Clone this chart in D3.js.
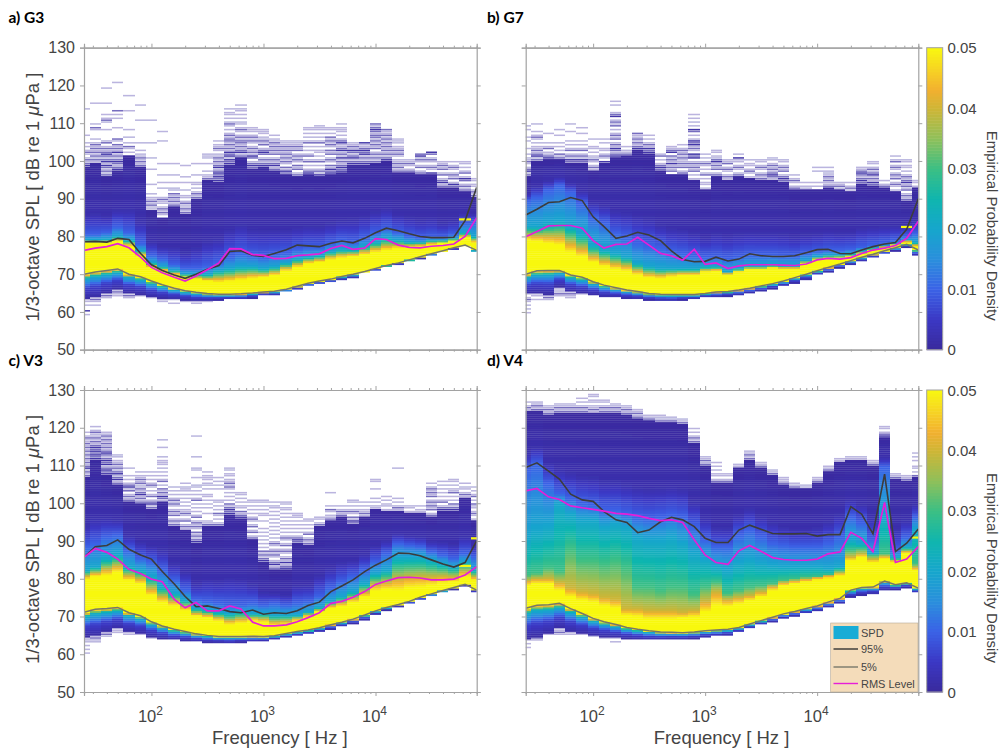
<!DOCTYPE html>
<html>
<head>
<meta charset="utf-8">
<script src="https://cdn.jsdelivr.net/npm/d3@7"></script>
<style>
  html, body { margin: 0; background: #fff; }
  text { font-family: "Liberation Sans", Arial, sans-serif; fill: #444; }
  .title { font-family: Lato, sans-serif; font-weight: 700; font-size: 15.5px; fill: #000; }
</style>
</head>
<body>
<div class="main"></div>
<script>
const width = 1004;
const height = 749;

// one third octave centre frequencies
const bands = [25,31.5,40,50,63,80,100,125,160,200,250,315,400,500,630,800,1000,1250,1600,2000,2500,3150,4000,5000,6300,8000,10000,12500,16000,20000,25000,31500,40000,50000,63000,80000];
const yTicks = [50,60,70,80,90,100,110,120,130];
const xMajor = [100,1000,10000];
const xMinor = [30,40,50,60,70,80,90,200,300,400,500,600,700,800,900,2000,3000,4000,5000,6000,7000,8000,9000,20000,30000,40000,50000,60000,70000];
const cbTicks = [0,0.01,0.02,0.03,0.04,0.05];

// colour ramp
const rampStops = [0,0.005,0.01,0.015,0.02,0.025,0.03,0.035,0.04,0.043,0.046,0.05];
const rampColors = ['#3a2a9c','#3b38c4','#3b62e6','#2a8fdc','#16a6cc','#10b6ae','#3cbf84','#90c05a','#cfb535','#f2b030','#f6cf25','#f8f810'];

// G3
const g3P95 = [78.6,78.7,78.5,79.5,79.2,75.5,72.5,71,69.8,68.9,70,71.3,72.3,76,76.2,75,74.7,75.5,76.5,77.7,77.5,77.3,78.2,78.8,78.3,79.5,81,82.2,81.5,80.7,80,79.7,79.7,79.8,84.2,93];
const g3Rms = [76.3,76.9,77.3,78.1,77,74.5,71.8,70.4,69.2,68.2,69.5,71.2,73,76.8,76.7,75.2,75,74.1,74.2,74.9,75.1,75.4,76.8,77.6,76.6,76.9,79.4,79.2,77.7,77.1,77,77.4,77.6,78,80,85];
const g3P5 = [70,70.6,71,71.4,70,69.3,68.2,67.2,66.3,65.6,65.2,64.9,64.7,64.7,64.8,65,65.3,65.5,66,66.8,67.6,68.2,68.7,69.4,70,70.7,71.5,72.3,73,73.8,74.6,75.4,76.2,77,77.7,76.3];
const g3Floor = [63.5,64,65,66,65,64.7,64,63.7,63.5,63.2,63,63,63.2,63.3,63.3,63.7,64.3,64.5,65.3,66,66.8,67.3,67.8,68.5,69,70.3,71,71.9,72.6,73.4,74.2,75,75.8,76.6,77.3,76];
const g3Yellow = [78.3,78.3,78.3,78.8,77.5,75,72,71,70,69.3,68.8,68.3,68,68.2,68.6,69,69.3,69.8,71,72,73,73.3,74,74.5,74.8,75.3,76,76.5,77,77.3,77.5,78,78.3,78.8,79.8,78.5];
const g3Teal = [79.2,79.2,79.3,80,79,76.3,73,72,71,70,70,70,71,71.5,72,72,71.5,72,73,74,74.5,75,76,76.5,76.5,77.5,78.5,79.5,79,78.5,78.5,79,79,79.5,81,80];
const g3Blue = [80.5,80.5,81,82.5,81,78,75,74,72.5,71.5,71.5,72,73,74.5,75.5,75,74.5,75,75.5,76.5,77,77,78,78.8,78.3,79.5,81,82,81,80,79.5,79.8,79.8,80.5,83.5,84];
const g3Ceil = [98.5,99.3,96,97.6,101.3,98.5,87,85,88,86,90,95,94.5,99,101,98,98.5,97.6,96.7,96,96.3,96,96.3,97.2,99,99,99.3,100,97,97,96.3,96.7,93,93,92,90.5];
// stripes above the solid part: one char per 0.5 dB, going up. # dark, + mid, - pale, . empty
const g3Above = [
  '#+-+-.-+-.-.-...-.............-','-+-+-+-+-+-.-....-+.-..........-','+-+-+#-#+-+#+-+-.+-.....-...-+-.-.....-.......-','#+-+#+-+-#-+-+.-+.....-....-.-.+..............-',
  '.-.-+.-..-...-.........-.......-','+-+-+--.-...-...........-.......-','--+-+--.-....-.......-.....-.......-...........-.','.-+-+-.--+-....-..-...-.....-...........-....-',
  '+-+-+-+.--..-...-.....-.','+-+--+-.--..-...-..-.....-','+-+-.-.--...-.....-.','+--.-...-..---..',
  '#+#+#+-#+-+-+--.-+--.-','#+#-#+#-+-+-++-+-.-.-+-.-.--.-','+-#+-+-++-+-.-+-.--.-.-.--.-','+#+-.+#-+-+-.-+-+-.---',
  '#+-+-.+#+-.+-+--.---','+-#+-+-.+-+-+-+--.-','+#-+.-+-+-+-+-+---','+-.+-+.-+-+-.+-+---',
  '#+-.-.+-.+-.-.-.+-.-.-.--','#-+-.-.+-.-.--.-.+-.-.-.---','#+#-+.-+-.+-+.-+-+-+.-.--','#+#+-+-#-+-#+--#+-.-.---.-',
  '#+-#+-+#-+--','#+-+-#+#+--#','+-+-+-.+-+-+-++-+#+-+','#+-+-+-+-+-+-+--+',
  '+-+-+--.-+-+--.---','+-.-+--','+-.+-.-+-#+','#.-+-.-+-.+#',
  '+-#+-.+-.+-+--.','+#-.+-+-.-+-.-','+-+-.+#-.+-.-.--','+-+-.--.--'
];
const g3Under = ['--.-..#.-...','-+-.-','-+-','-+--','-+-','-','-','--','-.-','-','--','-'];
const g3Blips = [[34,84.3]];

// G7
const g7P95 = [85.7,87.2,89,89.2,90.3,89.5,85.2,82.6,79.5,80.1,81.1,80.4,78.9,76.2,73.9,73.3,73.4,74.5,73.5,74,75.4,74.9,74.7,74.7,74.9,75.7,76.5,76.6,75.5,75.4,76.4,77.3,78,78.4,81.9,90];
const g7Rms = [79.9,81.3,82.8,82.9,82.9,82.2,78.9,76.9,77.9,78,79.8,77.7,75.5,74.9,73.7,76.6,72.6,73,71.5,72.2,72.5,72.5,72.5,72.4,72.3,72.7,73.8,74.2,74,74.4,75.5,76.4,76.9,77.6,79.5,84];
const g7P5 = [70,70.9,71,71,69.8,69.2,68,67.1,66.4,65.8,65.4,64.9,64.7,64.6,64.6,64.6,64.9,65.3,65.4,65.8,66.3,66.9,67.5,68.2,69.1,70,70.9,71.8,72.7,73.6,74.5,75.3,76.2,77,77.9,76.4];
const g7Floor = [64.9,64.9,64.7,66.7,65.4,64.9,64.5,64,63.9,63.6,63.4,63.2,62.9,62.9,63.2,63.4,63.9,64,64.2,64.5,65.1,65.6,66.2,66.9,67.7,68.6,69.8,70.6,71.7,72.6,73.5,74.4,75.3,76.2,77.2,75];
const g7Yellow = [79.2,78.9,78.3,77.9,76,74.8,73.3,72.2,71.5,71,70,69.2,69,69.5,69.8,69.8,70.7,71,70,70.7,71.3,71.3,71.7,71.5,71.5,72.9,73.8,74.2,74.4,74.7,75.3,76.4,77.1,77.7,78.6,77.5];
const g7Teal = [82.6,82.6,83.5,84,82.6,80.8,77.7,76.4,75.5,74.6,72.9,72,71.5,71.5,71.5,71.5,72,72,70.7,71.5,72.2,72.2,72.5,72.3,72.3,73.6,74.7,75,75,75.4,76.3,76.9,77.5,78.2,79.1,78.4];
const g7Blue = [89.6,90.5,92.3,93.6,91.8,88.8,85.2,83.5,80.8,79.9,78.2,77.5,77,76,75.5,75,74.5,74.5,74,74.5,75,75,75,74.8,74.8,75.5,76,76.3,76.3,76.6,77.1,77.7,78.2,78.9,80,80.8];
const g7Ceil = [95.8,99.8,100.4,100.7,99.4,99.4,97.6,99.4,101,101.6,102.9,102,97.6,96.7,96.7,95,92.3,95.8,95,95.8,95.4,95,95,94.5,92.3,92.3,92.3,93.2,92.3,91.9,94,93.6,93.2,91.9,89.6,93];
const g7Above = [
  '+-#+-.-+--.-..-...-.-...-.-','+-#+-+--.-.-+-.-...-','#+--.+-.-....-','+-+.-.-.-...-..-',
  '+#-+-.+-.-.-....-...-.','+#-+-.+-.-.-...-..-','-+-.-+--.-.--...-.','#.-+-.--..-.-.',
  '#+-+#-+-.+-+-.-.+-+-.#+-...-.-','+--.-','#+-+-+--+','#+#-+-.-.-',
  '+#+-.-.+-','.+-+-#-+-+.#+--','+-.+-+--+-+-+-.-','-.-.+-+-+-.#+#.-+-#+#-.-.+#.-.-.-.-',
  '-.--.-.+-.-.-+-.-.-','+-.+-+-#+--.--','-+-.-+-.+--.','+-.-+-.--#.-.',
  '-.-+-.--.-','+-+-.-+-.--.','-+#+-+-+-.--','+#+-.+-+-.--',
  '+-.-+-.-','--.-','.-.-.....-.-','+--+-+---.-.',
  '-+--.','-+-.-','+#+-+#+--','+#-+-#+-+-.--',
  '+-.-','-.-+-.+-+-.-+-.+-.-','+-+-.+-+-#+-+-.-.--.--','-.--'
];
const g7Under = ['-.-+-.-.-.-.','--.-','-+-','---+-','-+--','-'];
const g7Blips = [[34,82.3]];

// V3
const v3P95 = [85.7,88.5,88.8,90.3,87.8,86.3,85.2,81.9,78.6,75.3,72.6,72.8,72.1,71.3,71,71.7,70.6,71,70.8,71.5,72.9,73.8,76.6,78.1,79.7,81.9,83.6,85,86.8,86.7,86.1,85,83.9,83.1,84.3,90.1];
const v3Rms = [85.7,88,87,85.2,82.5,81.4,79.9,79.2,74.5,72.3,73.7,71.5,71.5,72.8,72,68.5,67.5,67.5,67.8,68.6,69.7,71,73.5,74,75.1,76.6,78.5,79.4,80.3,80.4,80.2,79.7,79.7,79.9,81,83.2];
const v3P5 = [71.1,71.9,72.1,72.4,71,70.2,68.6,67.5,66.6,66,65.4,65,64.7,64.7,64.7,64.8,64.7,64.9,65.5,66,66.4,67,67.8,68.5,69.3,70.4,71.5,72.4,73.2,74,75.1,76,76.9,77.7,78.5,77];
const v3Floor = [64.7,65,66,66.9,66,65.5,64.7,64.2,63.8,63.6,63.3,63.2,63.1,62.9,63.2,63.3,63.5,64,64.5,64.8,65.3,66,66.6,67.3,68.2,69.1,70.6,71.7,72.6,73.5,74.4,75.3,76.3,77.2,78.1,76.6];
const v3Yellow = [80,80.7,81,81.9,79.7,78.8,75.7,73.9,73,71.7,70.2,69.8,69,68,68.4,69,68.6,67.7,68,69,70,71.3,72.4,72.8,73.9,75.3,77,77.3,77,77.7,77.9,78.3,79,79.2,80.6,79.7];
const v3Teal = [82.3,83.2,85.4,86.3,83.2,82.3,80.6,77.9,76.1,74.4,72.2,71.7,71.1,70.8,71.3,70.8,70.8,70.4,70.4,70.4,71.3,72.4,73.9,75.3,76.6,78.8,81.4,82.3,85.8,85.8,85.8,85,84.1,83.2,84.5,82.3];
const v3Blue = [88.5,89.4,91.1,91.6,87.6,85.4,84.5,82.3,79.7,77,74.4,73.9,73.5,73,73,73.5,73,73.5,73,73.5,73.9,75.3,77.5,79.2,80.6,82.3,84.5,86.7,89.4,88.9,88.5,87.2,86.3,85.4,86.7,85.8];
const v3Ceil = [107,111.5,107.5,104.8,100.4,100,98.7,100.4,94.2,92.9,89.4,93.8,93.8,96.9,96,90.3,84.5,82.3,82.3,89.4,88.9,94.2,95.6,96.4,94.7,96.4,98.7,98.2,97.8,97.3,97.3,96.4,98,98.2,101.6,95.6];
const v3Above = [
  '+-+-#+-+-+-+-+-+-+--+-.-','#+#+#+#+-+-+--+-.-.','#+#+-#+#+-+#+-+-+-+-+--','+-#+-#+-+-+--.--',
  '+-+-.+-#+-.-.-...-','+-+-#+-+--+-+--.-','+-#+-.+-.-.-+-.-.-.-','-+#-+-+.-.+-.-.-.-.---.-....-...-',
  '+-+-.+-+-.-+-+-.-.-.-.','-+-.+-.-+--.-.-.-.-.---.-','#+-+-+.-+-+-.+-.-.-.-.+-.-.-.--...-...--.....-..........-','+--...-..-.-.-.--..-.--.---.-',
  '+-.-.-+.-.-.--.....-.-.-.-...','#+#+-+.-.-.-.-+-+--.--.--','#+-+.--.-.-.--','+-.+-.+-.-+-.-.-.-.--.',
  '#+-+-+.-.-.-.-.-.-...-..--.-.-.--.','+-#+-.-+-+-.-+-.-.-.-.-.-.-.-.-.--.-','#+-#-+-.-+-.+-.-+-.-.-.-.-.-.-.--.--','+#+-.-.-.-.-.---',
  '+-+-.+-.-.-.--','+-.--.','+--.-+.-......-','+-+-.-',
  '+#-+.-+-.-.--','-+--.-.-.','--.-.-....-...--','-.--.-.-',
  '-+-.-.-...............-','-.--.','--.-.','+-.+-+-+-.+-+-+-.-',
  '#+-.+-.-.-.-.-.-','#+-+.-.-.+--.-.--','-+-.--.-','-.-+-.--+.-.+-.-.-'
];
const v3Under = ['---.-.-.-','-+--.','-+-','---','--','-','-'];
const v3Blips = [[34,83.2],[35,90.5]];

// V4
const v4P95 = [109.5,110.7,108.5,106.4,102.4,100.9,100.5,97.8,95.6,94.9,92.2,92.9,95.1,96.3,95.6,93.8,90.7,89.6,89.6,92.9,94.2,93.1,92,91.9,91.9,92,91.3,91.7,91.7,99.1,97.1,91.9,107.7,87.2,89.4,93.2];
const v4Rms = [103.3,103.9,101.7,101,99.3,98.8,98.4,97.9,97.3,97.1,96.7,96,95.4,95.6,94.9,90.3,86.3,84.3,83.8,87.4,88.8,87.3,85.6,85.1,84.9,84.9,85.2,86.6,87.1,92.3,90.7,87.2,100.2,84.3,85.2,88.5];
const v4P5 = [72.2,73,73.1,73.5,72.1,70.8,69.5,68.6,67.9,67.1,66.6,66.2,65.9,65.8,65.7,65.9,66.2,66.4,66.6,67.1,68,68.9,69.8,70.7,71.3,72.1,72.8,73.8,74.8,77,77.7,77.8,79.4,78.4,78.9,77.5];
const v4Floor = [64.2,64.7,65.5,66.9,66,65.5,64.9,64.7,64.5,64.2,64,63.8,63.8,64,64,64.2,64.5,64.8,65,65.8,66.9,67.8,68.6,69.5,70.1,70.8,71.5,72.4,73.5,75.1,75.7,76,77,77.2,77.7,76.3];
const v4Yellow = [78.3,78.8,78.8,77,75.3,74.4,73.9,73,72.4,70.4,70.1,69.5,69.5,69.5,69.8,70,71.3,73,72.8,73.5,74.4,75.3,77,78.3,78.8,79.2,79.7,80.1,81,85,86,84.5,85.4,84.5,86.9,82.3];
const v4Orange = [79.5,80,80,79,77.5,76.5,76,75,74.5,72,72,71.5,71.5,71.5,71,71.5,74,76.5,74.5,75,75.5,76.5,78,79,79.5,80,80.5,81,81.5,85.8,86.5,85.2,86,85,87.3,83];
const v4Green = [81,81.5,83,82,88,85,85,84,85,83,78,78,77,78,78,76,78,79.2,76.1,77,77.9,78.3,78.8,79.7,80,80.4,80.6,81,82.3,87.6,88,86.3,86.7,85.2,87.8,84];
const v4Teal = [91,93,94,100,97.3,95.6,95.6,93.8,94.7,93.8,91.1,90.3,90.3,91.1,89.4,86.7,85,83.2,82.3,84.1,85,84.1,83.6,83.2,83.2,83.2,83.2,82.7,83.2,90.3,89.4,86.7,96.4,85.8,88.5,93];
const v4Blue = [108.8,110.6,105.3,102.6,101.3,100,99.5,98.2,98.2,97.3,96.4,96,96.4,96.9,96.4,93.8,90.3,88.5,88.5,91.6,92.9,91.1,89.4,88.9,88.5,88.5,88.5,89.4,91.1,96.4,94.7,90.3,109.7,87.6,91,96.4];
const v4Ceil = [124.5,124.5,123.4,124.2,124.2,124.2,124.2,124,123.8,123.4,122.5,122,121.6,121.6,121.1,115.9,110.1,105.7,105.3,109.3,111.5,109.3,107.5,104.8,103.9,103.9,105.3,108.4,111,111.5,111.5,110.1,117.6,106.4,106.2,107.2];
const v4Above = [
  '-+-.-','+-+--','+-+--','+-+--','+-+--.','+-+-.-.-','-+--.--.--','+-+-.--',
  '+-+--','+-+--','+-+--','+--.','+---','+--','+--','+-+-.-.-',
  '+-+--.','+-.--.-.-.-','+-.--','--','+-+--','+--','+--','+---',
  '+--','--','+--','+--','--','--','--','+--',
  '#+-.--','+--','+--','+.-.--..-.-.-'
];
const v4Under = ['-.-.-','+-','-','--+-.','--','-','-','-','-.-'];
const v4Blips = [[35,90.7]];

const legendLabels = ['SPD','95%','5%','RMS Level'];

const ramp = d3.scaleLinear().domain(rampStops).range(rampColors).clamp(true);
const stripeAlpha = {'#': 0.95, '+': 0.7, '-': 0.35};

const plotW = {a: [84, 476.7], b: [525.7, 918.3]};
const plotH = {top: [47.7, 349.7], bottom: [390, 692]};

const svg = d3.select('.main')
  .append('svg')
  .attr('width', width)
  .attr('height', height)
  .attr('viewBox', `0 0 ${width} ${height}`);

const defs = svg.append('defs');
defs.append('filter').attr('id', 'soft')
  .append('feGaussianBlur').attr('stdDeviation', 0.35);

function drawPanel(id, title, xr, yr, s, opts) {
  const x = d3.scaleLog().domain([25, 80000]).range(xr);
  const y = d3.scaleLinear().domain([50, 130]).range([yr[1], yr[0]]);

  defs.append('clipPath').attr('id', 'clip' + id)
    .append('rect')
    .attr('x', xr[0]).attr('y', yr[0])
    .attr('width', xr[1] - xr[0]).attr('height', yr[1] - yr[0]);

  // column edges sit halfway between the nominal band centres
  const edge = i => {
    if (i <= 0) return Math.floor(xr[0]);
    if (i >= bands.length) return Math.ceil(xr[1]);
    return Math.round(x(Math.sqrt(bands[i - 1] * bands[i])));
  };

  // build the cells, 0.5 dB tall, one column per band
  const cells = [];
  const stripes = [];
  bands.forEach((f, i) => {
    const x0 = edge(i);
    const x1 = edge(i + 1);
    const under = s.p5[i] - s.floor[i];
    const levels = [s.floor[i], s.p5[i] - under * 0.55, s.p5[i] - under * 0.15, s.p5[i], s.yellow[i]];
    const dens = [0.001, 0.006, 0.022, 0.05, 0.05];
    if (s.orange) {
      levels.push(s.orange[i], s.green[i]);
      dens.push(0.04, 0.03);
    }
    levels.push(s.teal[i], s.blue[i], s.blue[i] + (s.ceil[i] - s.blue[i]) * 0.3, s.ceil[i]);
    dens.push(0.02, 0.01, 0.002, 0.0005);
    const density = d3.scaleLinear().domain(levels).range(dens).clamp(true);
    const lo = Math.round(s.floor[i] * 2) / 2;
    const hi = Math.round(s.ceil[i] * 2) / 2;
    for (let v = lo; v < hi; v += 0.5) {
      cells.push({x0, x1, v, d: density(v + 0.25)});
    }
    for (let k = 0; k < (s.above[i] || '').length; k++) {
      const c = s.above[i][k];
      if (c !== '.') stripes.push({x0, x1, v: hi + k * 0.5, a: stripeAlpha[c]});
    }
    for (let k = 0; k < (s.under[i] || '').length; k++) {
      const c = s.under[i][k];
      if (c !== '.') stripes.push({x0, x1, v: lo - (k + 1) * 0.5, a: stripeAlpha[c]});
    }
  });
  s.blips.forEach(b => {
    cells.push({x0: edge(b[0]), x1: edge(b[0] + 1), v: b[1], d: 0.05});
  });

  const heat = svg.append('g')
    .attr('clip-path', `url(#clip${id})`)
    .append('g')
    .attr('filter', 'url(#soft)');

  heat.append('g').selectAll('rect')
    .data(stripes)
    .enter()
    .append('rect')
    .attr('x', d => d.x0)
    .attr('width', d => d.x1 - d.x0)
    .attr('y', d => y(d.v + 0.5))
    .attr('height', y(0) - y(0.4))
    .attr('fill', ramp(0.001))
    .attr('fill-opacity', d => d.a);

  heat.append('g').selectAll('rect')
    .data(cells)
    .enter()
    .append('rect')
    .attr('x', d => d.x0)
    .attr('width', d => d.x1 - d.x0)
    .attr('y', d => y(d.v + 0.5))
    .attr('height', y(0) - y(0.5) + 0.3)
    .attr('fill', d => ramp(d.d));

  // percentile and rms lines
  const line = d3.line().x((d, i) => x(bands[i])).y(d => y(d));
  const lines = svg.append('g').attr('clip-path', `url(#clip${id})`).attr('fill', 'none');
  lines.append('path').attr('d', line(s.p5)).attr('stroke', '#77776a').attr('stroke-width', 1.5);
  lines.append('path').attr('d', line(s.p95)).attr('stroke', '#3c3c3c').attr('stroke-width', 1.6);
  lines.append('path').attr('d', line(s.rms)).attr('stroke', '#e61ed8').attr('stroke-width', 1.7);

  // axes, all four sides like the matlab box
  const noLabel = () => '';
  const styleAxis = g => {
    g.selectAll('.domain').attr('stroke', '#a2a2a2').attr('stroke-width', 1.2);
    g.selectAll('.tick line').attr('stroke', '#a2a2a2');
  };
  svg.append('g').attr('transform', `translate(${xr[0]},0)`)
    .call(d3.axisLeft(y).tickValues(yTicks).tickSize(4).tickPadding(5).tickFormat(opts.yLabels ? d3.format('d') : noLabel))
    .call(styleAxis)
    .call(g => g.selectAll('text').attr('font-size', 16).attr('fill', '#444').style('font-family', '"Liberation Sans"'));
  svg.append('g').attr('transform', `translate(${xr[1]},0)`)
    .call(d3.axisRight(y).tickValues(yTicks).tickSize(4).tickFormat(noLabel))
    .call(styleAxis);
  [[yr[0], d3.axisTop], [yr[1], d3.axisBottom]].forEach(([py, axis]) => {
    svg.append('g').attr('transform', `translate(0,${py})`)
      .call(axis(x).tickValues(xMinor).tickSize(2).tickFormat(noLabel))
      .call(styleAxis);
    svg.append('g').attr('transform', `translate(0,${py})`)
      .call(axis(x).tickValues(xMajor).tickSize(4).tickFormat(noLabel))
      .call(styleAxis);
  });

  if (opts.xLabels) {
    const tl = svg.append('g').selectAll('text')
      .data(xMajor)
      .enter()
      .append('text')
      .attr('x', d => x(d) - 1)
      .attr('y', yr[1] + 29.5)
      .attr('text-anchor', 'middle')
      .attr('font-size', 16.5)
      .text('10');
    tl.append('tspan')
      .attr('dy', -7)
      .attr('font-size', 12)
      .text(d => Math.round(Math.log10(d)));
    svg.append('text')
      .attr('x', (xr[0] + xr[1]) / 2 - 0.5)
      .attr('y', yr[1] + 52)
      .attr('text-anchor', 'middle')
      .attr('font-size', 18.5)
      .text('Frequency [ Hz ]');
  }
  if (opts.yLabels) {
    const yl = svg.append('text')
      .attr('transform', `translate(39,${(yr[0] + yr[1]) / 2 - 1.5}) rotate(-90)`)
      .attr('text-anchor', 'middle')
      .attr('font-size', 18.5)
      .text('1/3-octave SPL [ dB re 1 ');
    yl.append('tspan').attr('font-style', 'italic').text('\u03BC');
    yl.append('tspan').text('Pa ]');
  }
  svg.append('text')
    .attr('class', 'title')
    .attr('x', xr[0] === 84 ? 8.5 : 487)
    .attr('y', yr[0] - 24.5)
    .text(title);
}

function drawColorbar(id, yr) {
  const cx = 926.7;
  const cw = 16;
  const c = d3.scaleLinear().domain([0, 0.05]).range([yr[1], yr[0]]);
  svg.append('g').selectAll('rect')
    .data(d3.range(0, 0.05, 0.0005))
    .enter()
    .append('rect')
    .attr('x', cx)
    .attr('width', cw)
    .attr('y', d => c(d + 0.0005))
    .attr('height', c(0) - c(0.0005) + 0.5)
    .attr('fill', d => ramp(d + 0.00025));
  svg.append('rect')
    .attr('x', cx).attr('y', yr[0])
    .attr('width', cw).attr('height', yr[1] - yr[0])
    .attr('fill', 'none').attr('stroke', '#a2a2a2');
  svg.append('g').selectAll('text')
    .data(cbTicks)
    .enter()
    .append('text')
    .attr('x', 947.5)
    .attr('y', d => c(d) + 5.5)
    .attr('font-size', 15)
    .text(d => d === 0 ? '0' : d3.format('.2f')(d));
  svg.append('text')
    .attr('transform', `translate(986.5,${(yr[0] + yr[1]) / 2 + 27}) rotate(90)`)
    .attr('text-anchor', 'middle')
    .attr('font-size', 15)
    .text('Empirical Probability Density');
}

function drawLegend() {
  const lx = 830.7, ly = 623;
  svg.append('rect')
    .attr('x', lx).attr('y', ly)
    .attr('width', 918 - lx).attr('height', 692 - ly)
    .attr('fill', '#f4dcba').attr('stroke', '#b5aa98').attr('stroke-width', 0.6);
  svg.append('rect')
    .attr('x', 833.5).attr('y', 626)
    .attr('width', 25).attr('height', 13)
    .attr('fill', '#18acd6');
  const rows = [
    {y: 649, c: '#333333'},
    {y: 667, c: '#77776a'},
    {y: 683.5, c: '#e61ed8'}
  ];
  svg.append('g').selectAll('line')
    .data(rows)
    .enter()
    .append('line')
    .attr('x1', 833.5).attr('x2', 858)
    .attr('y1', d => d.y).attr('y2', d => d.y)
    .attr('stroke', d => d.c).attr('stroke-width', 1.4);
  svg.append('g').selectAll('text')
    .data(legendLabels)
    .enter()
    .append('text')
    .attr('x', 861)
    .attr('y', (d, i) => [637, 653, 671, 687.5][i])
    .attr('font-size', 11)
    .text(d => d);
}

drawPanel('a', 'a) G3', plotW.a, plotH.top,
  {p95: g3P95, rms: g3Rms, p5: g3P5, floor: g3Floor, yellow: g3Yellow, teal: g3Teal, blue: g3Blue, ceil: g3Ceil, above: g3Above, under: g3Under, blips: g3Blips},
  {yLabels: true, xLabels: false});
drawPanel('b', 'b) G7', plotW.b, plotH.top,
  {p95: g7P95, rms: g7Rms, p5: g7P5, floor: g7Floor, yellow: g7Yellow, teal: g7Teal, blue: g7Blue, ceil: g7Ceil, above: g7Above, under: g7Under, blips: g7Blips},
  {yLabels: false, xLabels: false});
drawPanel('c', 'c) V3', plotW.a, plotH.bottom,
  {p95: v3P95, rms: v3Rms, p5: v3P5, floor: v3Floor, yellow: v3Yellow, teal: v3Teal, blue: v3Blue, ceil: v3Ceil, above: v3Above, under: v3Under, blips: v3Blips},
  {yLabels: true, xLabels: true});
drawPanel('d', 'd) V4', plotW.b, plotH.bottom,
  {p95: v4P95, rms: v4Rms, p5: v4P5, floor: v4Floor, yellow: v4Yellow, orange: v4Orange, green: v4Green, teal: v4Teal, blue: v4Blue, ceil: v4Ceil, above: v4Above, under: v4Under, blips: v4Blips},
  {yLabels: false, xLabels: true});
drawColorbar('b', plotH.top);
drawColorbar('d', plotH.bottom);
drawLegend();
</script>
</body>
</html>
